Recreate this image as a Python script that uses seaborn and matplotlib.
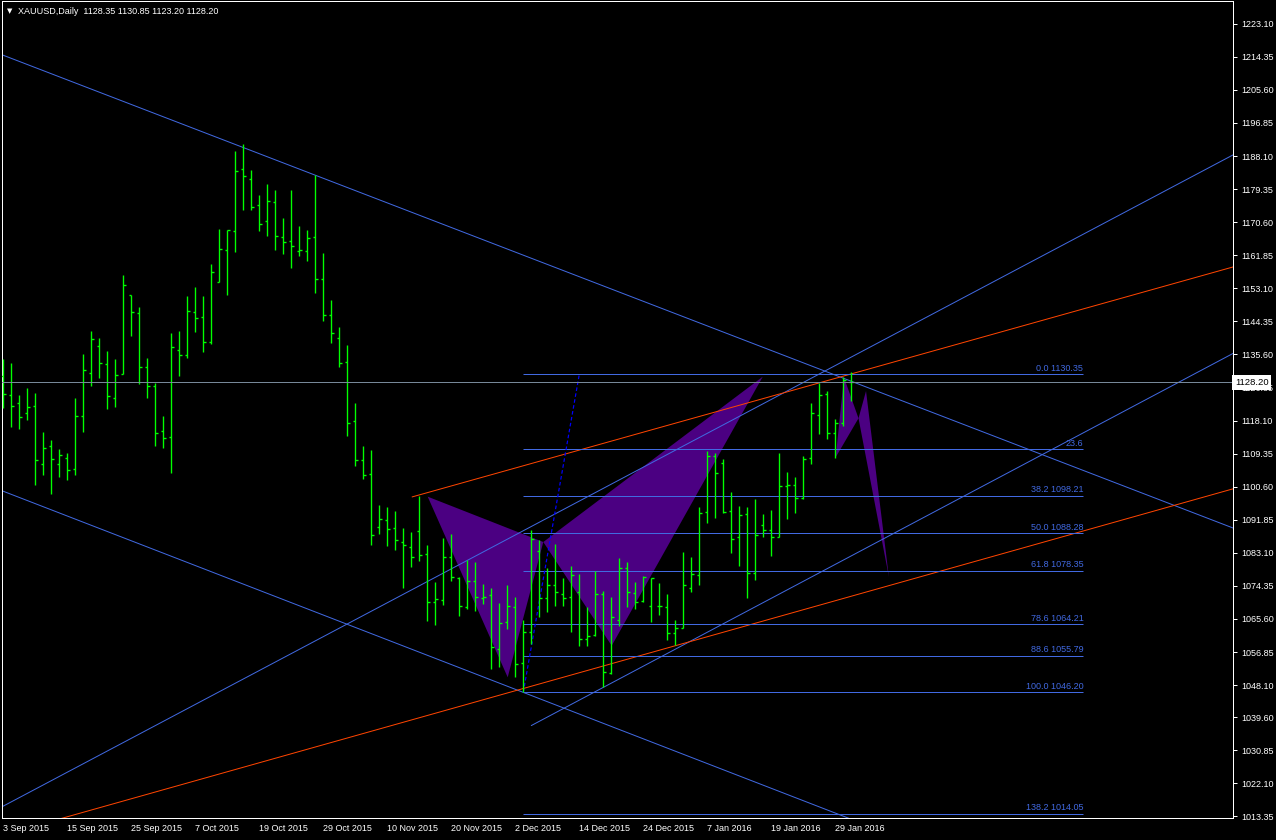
import numpy as np
import pandas as pd
import matplotlib
matplotlib.use("Agg")
import matplotlib.pyplot as plt
import seaborn as sns

# ---------------- data ----------------
opens = [1130.00, 1124.78, 1122.66, 1120.02, 1121.87, 1106.52, 1111.28, 1106.52, 1108.11, 1105.20,
         1119.22, 1130.60, 1137.75, 1132.98, 1123.99, 1130.34, 1151.24, 1146.48, 1132.19, 1127.16,
         1115.25, 1113.67, 1136.69, 1135.37, 1146.75, 1145.42, 1138.81, 1154.86, 1163.15, 1168.27,
         1184.59, 1181.94, 1175.06, 1170.83, 1175.85, 1166.59, 1165.53, 1162.89, 1162.89, 1166.59,
         1155.48, 1146.04, 1140.04, 1133.51, 1117.90, 1107.58, 1103.96, 1089.85, 1091.70, 1089.59,
         1085.88, 1084.65, 1088.79, 1082.79, 1070.01, 1070.62, 1081.92, 1076.53, 1068.68, 1075.65,
         1071.06, 1071.95, 1057.57, 1064.71, 1068.86, 1053.95, 1062.24, 1083.68, 1071.06, 1074.59,
         1072.12, 1071.51, 1072.65, 1060.22, 1061.36, 1072.12, 1051.22, 1065.24, 1079.00, 1072.39,
         1070.36, 1068.94, 1068.94, 1068.68, 1061.90, 1063.22, 1073.71, 1077.15, 1093.82, 1108.64,
         1106.78, 1094.08, 1087.20, 1093.29, 1077.76, 1090.47, 1089.05, 1087.20, 1100.70, 1100.96,
         1097.61, 1108.11, 1119.58, 1125.13, 1114.81, 1117.55, 1128.35]
highs = [1134.40, 1133.34, 1124.87, 1126.72, 1125.40, 1115.08, 1112.96, 1110.58, 1109.52, 1124.08,
         1135.72, 1141.81, 1139.95, 1136.51, 1134.40, 1156.62, 1151.33, 1148.16, 1134.66, 1128.04,
         1119.31, 1141.28, 1141.81, 1151.07, 1153.45, 1151.07, 1159.54, 1168.80, 1168.53, 1189.44,
         1191.20, 1184.41, 1177.80, 1180.71, 1179.12, 1171.71, 1179.12, 1169.59, 1168.53, 1183.00,
         1162.45, 1150.01, 1142.86, 1138.10, 1122.75, 1111.37, 1110.31, 1095.76, 1095.23, 1094.17,
         1089.67, 1088.62, 1098.14, 1085.17, 1075.48, 1087.12, 1088.09, 1076.71, 1081.21, 1080.68,
         1074.86, 1073.80, 1069.83, 1074.59, 1071.42, 1065.24, 1089.06, 1086.50, 1079.09, 1085.44,
         1076.45, 1079.62, 1077.50, 1068.77, 1078.30, 1073.01, 1071.42, 1081.74, 1080.68, 1075.39,
         1076.98, 1076.35, 1075.12, 1072.21, 1065.35, 1083.32, 1082.00, 1095.23, 1110.05, 1109.43,
         1107.84, 1099.20, 1095.49, 1095.23, 1097.35, 1093.38, 1094.44, 1109.52, 1104.49, 1103.17,
         1108.73, 1122.75, 1128.04, 1125.93, 1118.52, 1129.63, 1130.85]
lows = [1121.52, 1116.49, 1115.96, 1118.34, 1101.14, 1103.79, 1098.76, 1103.26, 1102.46, 1103.79,
        1115.17, 1127.34, 1129.46, 1121.25, 1121.78, 1130.34, 1140.57, 1127.87, 1124.16, 1111.46,
        1110.93, 1104.32, 1129.99, 1134.75, 1141.63, 1136.34, 1138.45, 1154.68, 1151.42, 1162.80,
        1173.91, 1173.91, 1168.36, 1167.03, 1163.33, 1162.27, 1158.57, 1161.74, 1160.42, 1151.95,
        1144.54, 1138.72, 1132.37, 1114.11, 1106.17, 1102.73, 1085.26, 1088.17, 1085.00, 1083.94,
        1073.88, 1079.44, 1081.03, 1065.15, 1064.10, 1069.39, 1075.74, 1066.48, 1068.15, 1067.80,
        1069.65, 1052.45, 1052.89, 1063.04, 1050.25, 1046.20, 1058.98, 1066.04, 1067.45, 1069.12,
        1069.04, 1062.24, 1058.54, 1058.54, 1061.10, 1047.51, 1051.04, 1063.83, 1068.77, 1068.24,
        1070.10, 1064.80, 1066.66, 1060.00, 1058.73, 1063.22, 1072.82, 1074.68, 1091.08, 1092.41,
        1093.55, 1083.14, 1079.70, 1071.24, 1076.00, 1087.38, 1082.35, 1087.20, 1092.14, 1093.73,
        1097.43, 1106.70, 1114.64, 1113.31, 1108.28, 1116.75, 1123.20]
closes = [1125.05, 1121.87, 1118.96, 1121.61, 1107.58, 1110.76, 1107.84, 1108.90, 1104.93, 1119.22,
          1131.40, 1139.60, 1133.25, 1124.52, 1130.07, 1153.89, 1146.75, 1132.19, 1127.16, 1114.73,
          1113.40, 1137.48, 1135.37, 1147.01, 1145.16, 1138.81, 1157.33, 1163.42, 1168.53, 1184.06,
          1182.74, 1174.53, 1170.03, 1176.12, 1166.86, 1165.27, 1164.21, 1163.15, 1166.33, 1155.48,
          1146.04, 1141.36, 1133.25, 1117.37, 1107.58, 1103.79, 1087.73, 1091.97, 1089.41, 1086.41,
          1085.09, 1082.00, 1082.53, 1070.00, 1070.89, 1081.92, 1076.80, 1068.95, 1075.65, 1071.33,
          1071.51, 1058.10, 1064.54, 1069.12, 1053.69, 1062.07, 1086.68, 1071.06, 1074.59, 1072.65,
          1071.24, 1077.15, 1060.22, 1061.10, 1072.12, 1051.66, 1066.13, 1079.00, 1072.65, 1070.10,
          1076.62, 1076.35, 1068.94, 1061.90, 1063.22, 1074.50, 1077.41, 1093.55, 1108.64, 1104.14,
          1093.82, 1086.67, 1093.02, 1077.76, 1087.82, 1089.05, 1087.20, 1100.70, 1100.96, 1097.61,
          1107.93, 1120.10, 1124.87, 1114.81, 1117.55, 1128.84, 1128.20]

date_ticks = [0, 8, 16, 24, 32, 40, 48, 56, 64, 72, 80, 88, 96, 104]
date_labels = ["3 Sep 2015", "15 Sep 2015", "25 Sep 2015", "7 Oct 2015", "19 Oct 2015",
               "29 Oct 2015", "10 Nov 2015", "20 Nov 2015", "2 Dec 2015", "14 Dec 2015",
               "24 Dec 2015", "7 Jan 2016", "19 Jan 2016", "29 Jan 2016"]
price_ticks = [1223.10, 1214.35, 1205.60, 1196.85, 1188.10, 1179.35, 1170.60, 1161.85, 1153.10,
               1144.35, 1135.60, 1126.85, 1118.10, 1109.35, 1100.60, 1091.85, 1083.10, 1074.35,
               1065.60, 1056.85, 1048.10, 1039.60, 1030.85, 1022.10, 1013.35]

last_price = 1128.20
title_text = "XAUUSD,Daily  1128.35 1130.85 1123.20 1128.20"

# trend lines: anchor points (bar index, price)
trend_names = ["down_upper", "down_lower", "up_long", "up_short", "orange_long", "orange_short"]
trend_x0 = [0, 0, 0, 66, 0, 51.1]
trend_p0 = [1214.77, 1099.40, 1016.09, 1037.40, 1008.50, 1097.90]
trend_x1 = [150, 100, 150, 150, 150, 150]
trend_p1 = [1092.70, 1017.52, 1184.24, 1131.70, 1097.83, 1156.55]
trend_ray_only = [False, False, False, True, False, True]

# fibonacci retracement
fib_levels = [1130.35, 1110.49, 1098.21, 1088.28, 1078.35, 1064.21, 1055.79, 1046.20, 1014.05]
fib_labels = ["0.0 1130.35", "23.6", "38.2 1098.21", "50.0 1088.28", "61.8 1078.35",
              "78.6 1064.21", "88.6 1055.79", "100.0 1046.20", "138.2 1014.05"]
fib_start, fib_end = 65, 135
fib_base_x = [65, 72]
fib_base_p = [1046.20, 1130.35]

# harmonic pattern triangles
tri_x = [[53.05, 63.05, 67.5], [67.5, 76.05, 94.93], [104.05, 105.08, 106.9], [106.9, 107.84, 110.7]]
tri_p = [[1097.97, 1050.17, 1085.97], [1085.97, 1058.53, 1129.71],
         [1108.39, 1129.56, 1118.71], [1118.71, 1125.93, 1076.70]]

# ---------------- style ----------------
sns.set_theme(style="dark")
plt.rcParams['font.family'] = ['Liberation Sans', 'DejaVu Sans']
plt.rcParams['axes.facecolor'] = 'black'
plt.rcParams['figure.facecolor'] = 'black'

GREEN = "#00FF00"
BLUE = "#4169E1"
ORANGE = "#FF4500"
INDIGO = "#4B0082"
GRAY = "#778899"
FS = 6.5
PX = 0.72  # one pixel in points

W, H = 1276, 840
fig = plt.figure(figsize=(W / 100, H / 100), dpi=100)
ax = fig.add_axes([2 / W, 22 / H, 1231 / W, 817 / H])
ax.set_facecolor('black')
xmin, xmax = -0.16, 153.71
ymin, ymax = 1012.94, 1229.13
ax.set_xlim(xmin, xmax)
ax.set_ylim(ymin, ymax)

df = pd.DataFrame({"open": opens, "high": highs, "low": lows, "close": closes})
df["idx"] = np.arange(len(df))

# triangles (background)
for xs, ps in zip(tri_x, tri_p):
    ax.fill(xs, ps, color=INDIGO, lw=0, zorder=1)

# trend lines via seaborn
rows = []
for n, x0, p0, x1, p1, ray in zip(trend_names, trend_x0, trend_p0, trend_x1, trend_p1, trend_ray_only):
    slope = (p1 - p0) / (x1 - x0)
    xs = x0 if ray else xmin - 5
    xe = xmax + 5
    rows.append((n, xs, p0 + (xs - x0) * slope))
    rows.append((n, xe, p0 + (xe - x0) * slope))
tl = pd.DataFrame(rows, columns=["line", "x", "p"])
palette = {n: (ORANGE if n.startswith("orange") else BLUE) for n in trend_names}
sns.lineplot(data=tl, x="x", y="p", hue="line", units="line", estimator=None, sort=False,
             palette=palette, legend=False, lw=1 * PX, ax=ax, zorder=2)

# fibonacci
ax.hlines(fib_levels, fib_start, fib_end, color=BLUE, lw=1 * PX, zorder=2)
for lvl, lab in zip(fib_levels, fib_labels):
    ax.annotate(lab, (fib_end, lvl), xytext=(0, 1.2), textcoords='offset points',
                ha='right', va='bottom', color=BLUE, fontsize=FS, zorder=2)
ax.plot(fib_base_x, fib_base_p, color="#0000FF", lw=1.2 * PX, ls=(0, (3, 2)), zorder=2)

# OHLC bars
BW = 1.35 * PX
kw = dict(color=GREEN, lw=BW, zorder=3, snap=True)
ax.vlines(df["idx"], df["low"], df["high"], **kw)
ax.hlines(df["open"], df["idx"] - 0.32, df["idx"], **kw)
ax.hlines(df["close"], df["idx"], df["idx"] + 0.32, **kw)

# last price line
ax.axhline(last_price, color=GRAY, lw=1 * PX, zorder=4)

# axes
for s in ax.spines.values():
    s.set_color('white')
    s.set_linewidth(1 * PX)
ax.yaxis.tick_right()
ax.set_yticks(price_ticks)
ax.set_yticklabels([f"{v:.2f}" for v in price_ticks])
ax.set_xticks(date_ticks)
ax.set_xticklabels(date_labels)
for lab in ax.get_xticklabels():
    lab.set_ha('left')
ax.tick_params(axis='y', colors='white', length=3, width=1 * PX, pad=3, labelsize=FS, direction='out')
ax.tick_params(axis='x', colors='white', length=3, width=1 * PX, pad=1.5, labelsize=FS, direction='out')
ax.set_xlabel("")
ax.set_ylabel("")
ax.grid(False)

# price box
ax.text(1.0015, last_price, "1128.20", transform=ax.get_yaxis_transform(), ha='left', va='center',
        fontsize=FS + 0.3, color='black', zorder=10, clip_on=False,
        bbox=dict(boxstyle='square,pad=0.3', fc='white', ec='white', lw=0))

# title
fig.text(7 / W, 1 - 11 / H, "\u25BC", fontsize=5, color='white', va='center', ha='left',
         family=['DejaVu Sans'])
fig.text(18 / W, 1 - 11 / H, title_text, fontsize=FS, color='white', va='center', ha='left')

fig.savefig("out.png", dpi=100, facecolor='black')
